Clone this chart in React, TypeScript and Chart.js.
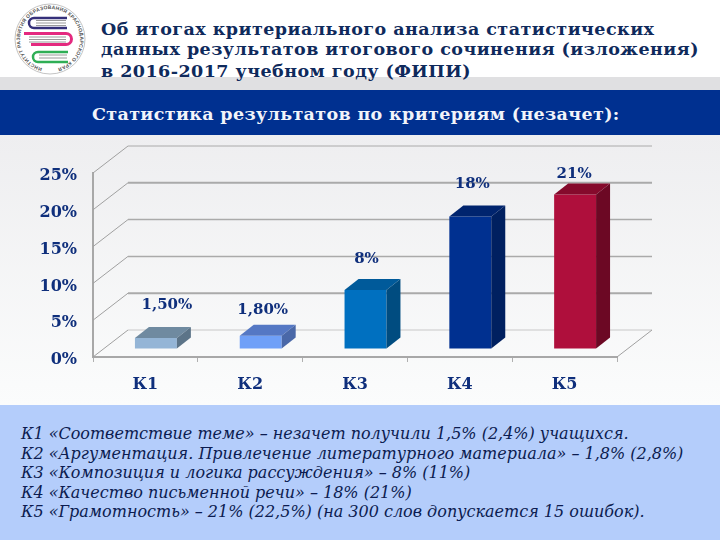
import React, { useEffect, useRef } from "react";
import { Chart, registerables } from "chart.js";

Chart.register(...registerables);

const categories = ["К1", "К2", "К3", "К4", "К5"];
const values = [1.5, 1.8, 8, 18, 21];
const valueLabels = ["1,50%", "1,80%", "8%", "18%", "21%"];
const yTicks = [0, 5, 10, 15, 20, 25];

const frontColors = ["#94b5d6", "#6fa0f8", "#0070c0", "#003090", "#af0f3c"];
const topColors = ["#6f8aa0", "#5578c4", "#005a9a", "#00246e", "#850a2c"];
const sideColors = ["#5c7488", "#4a68a8", "#004c80", "#002060", "#6c0824"];

const titleLines = [
  "Об итогах критериального анализа статистических",
  "данных результатов итогового сочинения (изложения)",
  "в 2016-2017 учебном году (ФИПИ)",
];
const bannerText = "Статистика результатов по критериям (незачет):";
const noteLines = [
  "К1 «Соответствие теме» – незачет получили 1,5% (2,4%) учащихся.",
  "К2 «Аргументация. Привлечение литературного материала» – 1,8% (2,8%)",
  "К3 «Композиция и логика рассуждения» –  8% (11%)",
  "К4 «Качество письменной речи» – 18% (21%)",
  "К5 «Грамотность» –  21% (22,5%) (на 300 слов допускается 15 ошибок).",
];

const SERIF = '"DejaVu Serif", serif';
const LABEL_COLOR = "#0f2f7c";
// 3D projection layout
const wall = { dx: 35, dy: -27 };
const barPlane = { dx: 10.5, dy: -8 };
const barDepth = { dx: 14, dy: -11 };
const labelShift = [
  [11, -33],
  [2, -26],
  [1, -31],
  [2, -32.5],
  [-1, -20.5],
];
const wallLineWidths = [1, 2, 1.5, 1.5, 2, 1];

const threeD = {
  id: "threeD",
  beforeDatasetsDraw(chart: any) {
    const { ctx, scales } = chart;
    const { x: xs, y: ys } = scales;
    ctx.save();
    yTicks.forEach((t, i) => {
      const y = ys.getPixelForValue(t);
      ctx.strokeStyle = i === 0 ? "#c8c8c8" : "#aaaaaa";
      ctx.lineWidth = wallLineWidths[i];
      ctx.beginPath();
      ctx.moveTo(xs.left + wall.dx, y + wall.dy);
      ctx.lineTo(xs.right + wall.dx, y + wall.dy);
      ctx.stroke();
      ctx.strokeStyle = "#a0a0a0";
      ctx.lineWidth = 1;
      ctx.beginPath();
      ctx.moveTo(xs.left, y);
      ctx.lineTo(xs.left + wall.dx, y + wall.dy);
      ctx.stroke();
    });
    const y0 = ys.getPixelForValue(0);
    ctx.beginPath();
    ctx.moveTo(xs.right, y0);
    ctx.lineTo(xs.right + wall.dx, y0 + wall.dy);
    ctx.stroke();
    ctx.restore();
    ctx.save();
    ctx.translate(barPlane.dx, barPlane.dy);
  },
  afterDatasetsDraw(chart: any) {
    const { ctx } = chart;
    const bars = chart.getDatasetMeta(0).data;
    bars.forEach((b: any, i: number) => {
      const l = b.x - b.width / 2;
      const r = b.x + b.width / 2;
      const t = b.y;
      const base = b.base;
      ctx.fillStyle = topColors[i];
      ctx.beginPath();
      ctx.moveTo(l, t);
      ctx.lineTo(l + barDepth.dx, t + barDepth.dy);
      ctx.lineTo(r + barDepth.dx, t + barDepth.dy);
      ctx.lineTo(r, t);
      ctx.closePath();
      ctx.fill();
      ctx.fillStyle = sideColors[i];
      ctx.beginPath();
      ctx.moveTo(r, t);
      ctx.lineTo(r + barDepth.dx, t + barDepth.dy);
      ctx.lineTo(r + barDepth.dx, base + barDepth.dy);
      ctx.lineTo(r, base);
      ctx.closePath();
      ctx.fill();
      ctx.fillStyle = LABEL_COLOR;
      ctx.font = `bold 15px ${SERIF}`;
      ctx.textAlign = "center";
      ctx.textBaseline = "middle";
      ctx.fillText(valueLabels[i], b.x + labelShift[i][0], t + labelShift[i][1]);
    });
    ctx.restore();
  },
};

const bookPath = (x: number, y: number, w: number, h: number) =>
  `M${x + w} ${y} H${x + h / 2} A${h / 2} ${h / 2} 0 0 0 ${x + h / 2} ${y + h} H${x + w}`;

export default function App() {
  const ref = useRef<HTMLCanvasElement>(null);
  useEffect(() => {
    document.body.style.margin = "0";
    document.body.style.overflow = "hidden";
    const chart = new Chart(ref.current as HTMLCanvasElement, {
      type: "bar",
      data: {
        labels: categories,
        datasets: [
          {
            data: values,
            backgroundColor: frontColors,
            barPercentage: 0.4,
            categoryPercentage: 1,
          },
        ],
      },
      options: {
        animation: false,
        responsive: false,
        devicePixelRatio: 1,
        layout: { padding: { left: 0, right: 103, top: 173, bottom: 140 } },
        plugins: { legend: { display: false }, tooltip: { enabled: false } },
        scales: {
          x: {
            afterFit: (s: any) => {
              s.height = 43;
            },
            grid: {
              drawOnChartArea: false,
              drawTicks: true,
              tickLength: 5,
              color: "#b0b0b0",
            },
            border: { color: "#a8a8a8", width: 2 },
            ticks: {
              padding: 13,
              color: LABEL_COLOR,
              font: { family: SERIF, weight: "bold", size: 16 },
            },
          },
          y: {
            min: 0,
            max: 25,
            afterFit: (s: any) => {
              s.width = 93;
            },
            grid: { drawOnChartArea: false, drawTicks: false },
            border: { color: "#a8a8a8", width: 2 },
            ticks: {
              stepSize: 5,
              padding: 16,
              labelOffset: 3,
              color: LABEL_COLOR,
              font: { family: SERIF, weight: "bold", size: 16 },
              callback: (v: any) => `${v}%`,
            },
          },
        },
      } as any,
      plugins: [threeD as any],
    });
    return () => chart.destroy();
  }, []);

  const abs = (o: React.CSSProperties): React.CSSProperties => ({ position: "absolute", ...o });
  return (
    <div style={abs({ left: 0, top: 0, width: 720, height: 540, overflow: "hidden", background: "#fff", fontFamily: SERIF })}>
      <div style={abs({ left: 0, top: 77, width: 720, height: 13, background: "#e0e0e2" })} />
      <div style={abs({ left: 0, top: 90, width: 720, height: 45, background: "#003090" })} />
      <div style={abs({ left: 0, top: 135, width: 720, height: 270, background: "linear-gradient(#eeeef0, #fbfcfc)" })} />
      <div style={abs({ left: 0, top: 405, width: 720, height: 135, background: "#b4cdfb" })} />

      <svg width={90} height={80} style={abs({ left: 5, top: 0 })}>
        <defs>
          <path id="ring" d="M45 69 A30 30 0 1 1 45.01 69" />
        </defs>
        <circle cx={45} cy={39} r={35} fill="#fff" stroke="#c4c4c4" strokeWidth={1} />
        <text fontSize={5} fill="#555" fontWeight="bold" fontFamily="Liberation Sans">
          <textPath href="#ring" startOffset={8} textLength={172}>
            ИНСТИТУТ РАЗВИТИЯ ОБРАЗОВАНИЯ КРАСНОДАРСКОГО КРАЯ
          </textPath>
        </text>
        <path d={bookPath(24, 18, 38, 10)} fill="none" stroke="#35307a" strokeWidth={2.5} />
        <path d="M31 20.5 H61 M31 23 H61 M31 25.5 H61" stroke="#9a9a9a" strokeWidth={1} />
        <path d="M19 33.5 H61 A5.5 5.5 0 0 1 61 44.5 H26" fill="none" stroke="#e4297f" strokeWidth={3} />
        <path d="M24 37 H61 M24 39.5 H61 M24 42 H61" stroke="#9a9a9a" strokeWidth={1} />
        <path d={bookPath(28, 52, 35, 10)} fill="none" stroke="#2fae55" strokeWidth={2.5} />
        <path d="M34 55 H62 M34 58 H62" stroke="#9a9a9a" strokeWidth={1} />
      </svg>

      {titleLines.map((t, i) => (
        <div
          key={t}
          style={abs({
            left: 101,
            top: [19, 39, 61][i],
            fontSize: 17.5,
            letterSpacing: 0.46,
            lineHeight: "21px",
            fontWeight: "bold",
            color: "#0f2a5c",
            whiteSpace: "nowrap",
          })}
        >
          {t}
        </div>
      ))}
      <div
        style={abs({
          left: 92,
          top: 103,
          fontSize: 17.5,
          letterSpacing: 0.35,
          lineHeight: "22px",
          fontWeight: "bold",
          color: "#f2f4fa",
          whiteSpace: "nowrap",
        })}
      >
        {bannerText}
      </div>
      {noteLines.map((t, i) => (
        <div
          key={t}
          style={abs({
            left: 21,
            top: 424 + i * 19.5,
            fontSize: 16,
            lineHeight: "20px",
            fontStyle: "italic",
            color: "#0c1c50",
            whiteSpace: "nowrap",
          })}
        >
          {t}
        </div>
      ))}
      <canvas ref={ref} width={720} height={540} style={abs({ left: 0, top: 0, width: 720, height: 540 })} />
    </div>
  );
}
